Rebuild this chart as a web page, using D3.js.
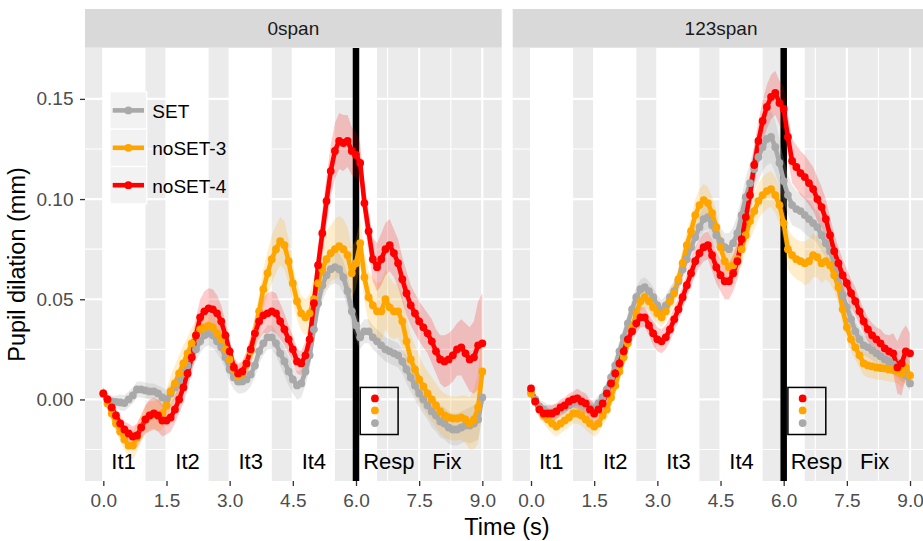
<!DOCTYPE html>
<html><head><meta charset="utf-8">
<script src="https://cdn.jsdelivr.net/npm/d3@7"></script>
<style>
body{margin:0;background:#fff}
svg{display:block}
text{font-family:"Liberation Sans",Arial,Helvetica,sans-serif}
</style>
</head><body>
<svg id="c" width="923" height="541"></svg>
<script>
// ---------------- DATA ----------------
const panels = ["0span", "123span"];
const seriesNames = ["SET", "noSET-3", "noSET-4"];
const seriesColors = ["#A9A9A9", "#FFA500", "#FF0000"];
const xTicks = [0, 1.5, 3, 4.5, 6, 7.5, 9];
const xTickLabels = ["0.0", "1.5", "3.0", "4.5", "6.0", "7.5", "9.0"];
const yTicks = [0, 0.05, 0.10, 0.15];
const yTickLabels = ["0.00", "0.05", "0.10", "0.15"];
const phaseLabels = ["It1", "It2", "It3", "It4", "Resp", "Fix"];
const phaseLabelX = [0.48, 2.0, 3.5, 5.0, 6.78, 8.16];
const itemStart = [0, 1.5, 3.0, 4.5, 6.0];
const itemEnd = [1.0, 2.5, 4.0, 5.5, 6.5];
const responseOnset = 6.0;
// time samples (s), 0.0 .. 9.0 every 0.1 s
const TIME = d3.range(0, 91).map(i => +(i * 0.1).toFixed(1));

// mean pupil dilation (mm), panel "0span"
const L_SET = [0.003,0.000,-0.001,-0.0012,-0.0015,-0.0018,0.000,0.002,0.005,0.005,
 0.0045,0.004,0.004,0.003,0.001,0.000,0.003,0.006,0.009,0.013,
 0.017,0.021,0.025,0.029,0.032,0.033,0.032,0.029,0.026,0.021,
 0.015,0.011,0.009,0.009,0.010,0.0125,0.017,0.024,0.028,0.031,
 0.031,0.028,0.023,0.019,0.014,0.010,0.007,0.008,0.014,0.022,
 0.035,0.048,0.057,0.062,0.065,0.066,0.065,0.061,0.054,0.044,
 0.037,0.031,0.034,0.034,0.031,0.029,0.027,0.025,0.024,0.023,
 0.022,0.019,0.015,0.011,0.007,0.003,0.000,-0.003,-0.006,-0.008,
 -0.011,-0.012,-0.014,-0.015,-0.015,-0.014,-0.013,-0.013,-0.012,-0.010,
 0.001];
const L_N3 = [0.003,-0.002,-0.007,-0.012,-0.016,-0.020,-0.023,-0.023,-0.019,-0.014,
 -0.010,-0.008,-0.0075,-0.008,-0.007,-0.003,0.004,0.008,0.013,0.018,
 0.023,0.028,0.032,0.035,0.036,0.0367,0.036,0.033,0.030,0.025,
 0.020,0.015,0.0115,0.013,0.018,0.024,0.033,0.044,0.055,0.063,
 0.070,0.075,0.079,0.077,0.069,0.058,0.049,0.043,0.041,0.043,
 0.050,0.058,0.065,0.070,0.073,0.075,0.0765,0.075,0.072,0.063,
 0.068,0.078,0.061,0.051,0.047,0.044,0.044,0.050,0.046,0.044,
 0.044,0.039,0.029,0.020,0.015,0.010,0.0065,0.003,0.000,-0.003,
 -0.006,-0.008,-0.009,-0.0095,-0.0095,-0.009,-0.010,-0.012,-0.010,-0.004,
 0.014];
const L_N4 = [0.003,0.000,-0.004,-0.008,-0.012,-0.015,-0.017,-0.0185,-0.018,-0.014,
 -0.010,-0.008,-0.007,-0.008,-0.0105,-0.0105,-0.009,-0.005,0.000,0.006,
 0.013,0.021,0.032,0.041,0.044,0.0455,0.045,0.043,0.039,0.032,
 0.024,0.016,0.013,0.014,0.018,0.025,0.033,0.039,0.042,0.043,
 0.044,0.043,0.039,0.035,0.030,0.025,0.019,0.018,0.022,0.030,
 0.048,0.067,0.083,0.099,0.114,0.124,0.129,0.128,0.129,0.124,
 0.122,0.118,0.098,0.084,0.070,0.066,0.070,0.075,0.077,0.073,
 0.068,0.060,0.053,0.047,0.043,0.039,0.036,0.033,0.029,0.024,
 0.020,0.019,0.020,0.022,0.025,0.026,0.023,0.020,0.021,0.027,
 0.028];
// mean pupil dilation (mm), panel "123span"
const R_SET = [0.004,0.000,-0.0035,-0.005,-0.0065,-0.0065,-0.006,-0.005,-0.004,-0.003,
 -0.0015,-0.001,-0.002,-0.003,-0.004,-0.0045,-0.002,0.001,0.005,0.011,
 0.017,0.024,0.031,0.038,0.045,0.051,0.055,0.056,0.054,0.051,
 0.047,0.0445,0.047,0.051,0.054,0.059,0.065,0.070,0.076,0.081,
 0.086,0.090,0.091,0.087,0.082,0.079,0.076,0.075,0.078,0.083,
 0.092,0.101,0.108,0.115,0.121,0.126,0.130,0.131,0.126,0.118,
 0.109,0.102,0.097,0.095,0.094,0.092,0.090,0.088,0.086,0.082,
 0.078,0.074,0.068,0.061,0.052,0.046,0.040,0.034,0.030,0.027,
 0.026,0.0245,0.023,0.0215,0.020,0.019,0.0175,0.016,0.014,0.012,
 0.008];
const R_N3 = [0.003,-0.001,-0.005,-0.008,-0.010,-0.012,-0.0135,-0.012,-0.0105,-0.009,
 -0.007,-0.007,-0.008,-0.010,-0.012,-0.0135,-0.012,-0.008,-0.005,0.001,
 0.007,0.014,0.021,0.028,0.036,0.043,0.049,0.051,0.049,0.046,
 0.043,0.041,0.044,0.049,0.053,0.060,0.068,0.077,0.084,0.092,
 0.097,0.0995,0.098,0.093,0.086,0.076,0.069,0.066,0.067,0.070,
 0.075,0.082,0.089,0.094,0.099,0.102,0.104,0.105,0.102,0.097,
 0.088,0.075,0.072,0.070,0.069,0.068,0.069,0.072,0.071,0.068,
 0.069,0.067,0.062,0.056,0.045,0.036,0.030,0.026,0.022,0.018,
 0.017,0.0165,0.016,0.0157,0.0155,0.015,0.0147,0.014,0.013,0.016,
 0.012];
const R_N4 = [0.0055,-0.001,-0.005,-0.007,-0.007,-0.007,-0.006,-0.004,-0.003,-0.001,
 0.000,0.0005,-0.001,-0.002,-0.005,-0.007,-0.005,-0.002,0.003,0.008,
 0.013,0.018,0.024,0.030,0.034,0.038,0.041,0.041,0.037,0.033,
 0.030,0.029,0.031,0.035,0.040,0.045,0.051,0.057,0.063,0.069,
 0.073,0.076,0.077,0.072,0.066,0.062,0.059,0.059,0.063,0.069,
 0.080,0.091,0.102,0.117,0.129,0.139,0.146,0.151,0.153,0.148,
 0.145,0.131,0.119,0.116,0.113,0.111,0.108,0.105,0.100,0.096,
 0.090,0.082,0.074,0.068,0.062,0.058,0.053,0.049,0.044,0.039,
 0.035,0.032,0.030,0.028,0.0255,0.024,0.023,0.016,0.018,0.024,
 0.023];

// ribbon half-widths, in units of 0.001 mm
const L_SET_se = [3,3,3,3,4,4, 4,4,4,4,4, 4,4,4,5,5, 5,5,6,6,6, 6,6,6,6,6, 6,6,6,6,6, 6,6,6,6,6,
 6,6,6,6,6, 6,6,7,7,7, 7,7,7,7,7, 7,8,8,8,8, 8,8,8,7,7, 6,6,6,6,6, 6,6,6,6,6, 6,7,7,7,7,
 7,7,8,8,8, 8,8,8,8,8, 8,9,9,10,10];
const L_N3_se = [3,3,4,4,5,5, 6,7,7,7,7, 7,7,8,8,8, 8,9,9,9,8, 8,7,7,6,6, 6,6,6,6,5, 5,5,6,6,7,
 8,9,10,11,12, 12,12,12,11,10, 9,9,9,10,11, 12,13,14,14,15, 15,15,14,13,12, 12,12,13,14,14,
 15,15,15,14,13, 13,12,12,12,12, 11,11,11,11,11, 11,11,11,11,11, 12,13,15,18,20];
const L_N4_se = [3,3,4,4,4,4, 5,5,6,6,7, 8,8,8,8,7, 7,7,7,8,8, 8,9,9,10,10, 10,9,8,7,6, 5,5,5,6,7,
 8,9,9,10,10, 10,9,8,7,7, 6,6,7,8,9, 10,11,12,13,14, 14,14,13,12,11, 10,10,10,11,12,
 13,13,13,12,12, 11,11,10,10,10, 10,10,11,11,12, 13,13,13,13,14, 15,16,18,22,25];
const R_SET_se = [3,3,3,4,4,4, 4,4,4,4,4, 4,4,4,4,4, 4,4,4,4,5, 5,5,5,5,5, 5,5,5,5,5, 5,5,5,5,5,
 6,6,6,6,6, 6,6,7,7,7, 7,8,8,9,9, 10,10,11,12,12, 13,13,13,12,11, 10,10,9,9,9,
 9,8,8,8,7, 7,7,6,6,6, 6,5,5,5,5, 5,5,5,5,5, 5,5,5,4,4];
const R_N3_se = [3,3,4,4,5,5, 5,5,5,5,5, 5,5,5,5,5, 5,5,5,5,5, 5,5,5,5,5, 5,5,5,5,5, 5,5,6,6,6,
 7,7,7,8,8, 8,8,8,8,8, 8,8,8,8,8, 8,9,9,9,9, 9,9,9,9,9, 10,10,10,10,11,
 11,11,10,10,9, 9,8,8,7,7, 6,6,6,6,6, 6,6,6,6,6, 6,6,7,7,7];
const R_N4_se = [3,3,4,4,4,4, 4,4,4,4,4, 5,5,5,5,5, 5,5,5,5,5, 5,5,5,5,5, 5,5,5,6,6, 6,6,6,6,6,
 6,6,7,7,7, 7,7,8,8,8, 9,9,9,9,9, 9,10,10,10,10, 11,11,11,11,11, 11,11,11,11,11,
 11,11,11,10,10, 9,9,8,8,7, 7,7,6,6,6, 6,6,7,7,8, 10,13,16,13,10];

// inset key (response-colour dots)
const insetBox = [6.1, 7.0, -0.0175, 0.006];
const insetDotX = 6.45;
const insetDotY = [-0.0118, -0.0055, 0.0005]; // SET, noSET-3, noSET-4

// ---------------- DRAW ----------------
const svg = d3.select("#c");
const PT = 48, PB = 481;
const y = d3.scaleLinear().domain([-0.0407, 0.1754]).range([PB, PT]);
const panelRange = [[85, 501.7], [512.7, 929.4]];
const means = [[L_SET, L_N3, L_N4], [R_SET, R_N3, R_N4]];
const ses = [[L_SET_se, L_N3_se, L_N4_se], [R_SET_se, R_N3_se, R_N4_se]];
const minorX = [0.75, 2.25, 3.75, 5.25, 6.75, 8.25];
const minorY = [-0.025, 0.025, 0.075, 0.125];

panels.forEach((pname, pi) => {
  const x = d3.scaleLinear().domain([-0.435, 9.46]).range(panelRange[pi]);
  const [x0, x1] = panelRange[pi];
  const g = svg.append("g");
  // strip
  g.append("rect").attr("x", x0).attr("y", 9).attr("width", x1 - x0).attr("height", 38.7).attr("fill", "#D9D9D9");
  g.append("text").attr("x", (x0 + x1) / 2).attr("y", 28.5).attr("text-anchor", "middle")
    .attr("dominant-baseline", "central").attr("font-size", 19).attr("fill", "#1A1A1A").text(pname);
  // panel background
  g.append("rect").attr("x", x0).attr("y", PT).attr("width", x1 - x0).attr("height", PB - PT).attr("fill", "#EBEBEB");
  // grid
  g.selectAll(".gmy").data(minorY).join("line").attr("x1", x0).attr("x2", x1)
    .attr("y1", d => y(d)).attr("y2", d => y(d)).attr("stroke", "#fff").attr("stroke-width", 1.1);
  g.selectAll(".gmx").data(minorX).join("line").attr("y1", PT).attr("y2", PB)
    .attr("x1", d => x(d)).attr("x2", d => x(d)).attr("stroke", "#fff").attr("stroke-width", 1.1);
  g.selectAll(".gy").data(yTicks).join("line").attr("x1", x0).attr("x2", x1)
    .attr("y1", d => y(d)).attr("y2", d => y(d)).attr("stroke", "#fff").attr("stroke-width", 2.2);
  g.selectAll(".gx").data(xTicks).join("line").attr("y1", PT).attr("y2", PB)
    .attr("x1", d => x(d)).attr("x2", d => x(d)).attr("stroke", "#fff").attr("stroke-width", 2.2);
  // white item windows
  g.selectAll(".win").data(itemStart).join("rect")
    .attr("x", (d) => x(d)).attr("width", (d, i) => x(itemEnd[i]) - x(d))
    .attr("y", PT).attr("height", PB - PT).attr("fill", "#fff");
  // response onset line
  g.append("line").attr("x1", x(responseOnset)).attr("x2", x(responseOnset)).attr("y1", PT).attr("y2", PB)
    .attr("stroke", "#000").attr("stroke-width", 6.5);
  // ribbons
  means[pi].forEach((m, si) => {
    const se = ses[pi][si];
    const area = d3.area().x((d, i) => x(TIME[i]))
      .y0((d, i) => y(d - se[i] * 0.001)).y1((d, i) => y(d + se[i] * 0.001));
    g.append("path").attr("d", area(m)).attr("fill", seriesColors[si]).attr("fill-opacity", si === 0 ? 0.25 : 0.2);
  });
  // lines
  means[pi].forEach((m, si) => {
    const line = d3.line().x((d, i) => x(TIME[i])).y(d => y(d));
    g.append("path").attr("d", line(m)).attr("fill", "none").attr("stroke", seriesColors[si])
      .attr("stroke-width", 4.6).attr("stroke-linejoin", "round").attr("stroke-linecap", "round");
  });
  // points
  means[pi].forEach((m, si) => {
    g.append("g").selectAll("circle").data(m).join("circle")
      .attr("cx", (d, i) => x(TIME[i])).attr("cy", d => y(d)).attr("r", 3.9).attr("fill", seriesColors[si]);
  });
  // phase labels
  g.selectAll(".pl").data(phaseLabels).join("text")
    .attr("x", (d, i) => x(phaseLabelX[i])).attr("y", y(-0.0348)).attr("text-anchor", "middle")
    .attr("font-size", 22).attr("fill", "#000").text(d => d);
  // inset box
  g.append("rect").attr("x", x(insetBox[0])).attr("y", y(insetBox[3]))
    .attr("width", x(insetBox[1]) - x(insetBox[0])).attr("height", y(insetBox[2]) - y(insetBox[3]))
    .attr("fill", "none").attr("stroke", "#000").attr("stroke-width", 1.5);
  g.selectAll(".idot").data(insetDotY).join("circle").attr("cx", x(insetDotX)).attr("cy", d => y(d))
    .attr("r", 3.9).attr("fill", (d, i) => seriesColors[i]);
  // x axis
  const xa = g.append("g").attr("transform", `translate(0,${PB})`)
    .call(d3.axisBottom(x).tickValues(xTicks).tickFormat((d, i) => xTickLabels[i]).tickSize(5).tickPadding(8));
  xa.select(".domain").remove();
  xa.selectAll("line").attr("stroke", "#333").attr("stroke-width", 1.3);
  xa.selectAll("text").attr("font-size", 19).attr("fill", "#4D4D4D").attr("font-family", null);
  if (pi === 0) {
    const ya = g.append("g").attr("transform", `translate(${x0},0)`)
      .call(d3.axisLeft(y).tickValues(yTicks).tickFormat((d, i) => yTickLabels[i]).tickSize(5).tickPadding(6.5));
    ya.select(".domain").remove();
    ya.selectAll("line").attr("stroke", "#333").attr("stroke-width", 1.3);
    ya.selectAll("text").attr("font-size", 19).attr("fill", "#4D4D4D").attr("font-family", null);
    // legend
    const lg = g.append("g");
    const keyX = 110, keyW = 36.7, keyH = 37.4, keyY = 91.7;
    seriesNames.forEach((s, si) => {
      const ky = keyY + si * keyH;
      lg.append("rect").attr("x", keyX).attr("y", ky).attr("width", keyW).attr("height", keyH)
        .attr("fill", "#F2F2F2").attr("stroke", "#fff").attr("stroke-width", 1.2);
      lg.append("line").attr("x1", keyX + 2.7).attr("x2", keyX + keyW - 2.7)
        .attr("y1", ky + keyH / 2).attr("y2", ky + keyH / 2)
        .attr("stroke", seriesColors[si]).attr("stroke-width", 4.6);
      lg.append("circle").attr("cx", keyX + keyW / 2).attr("cy", ky + keyH / 2).attr("r", 3.9).attr("fill", seriesColors[si]);
      lg.append("text").attr("x", 152.3).attr("y", ky + keyH / 2 + 1).attr("dominant-baseline", "central")
        .attr("font-size", 19).attr("fill", "#000").text(s);
    });
  }
});
// axis titles
svg.append("text").attr("x", 507).attr("y", 535).attr("text-anchor", "middle")
  .attr("font-size", 23.5).attr("fill", "#000").text("Time (s)");
svg.append("text").attr("transform", "translate(25,264.5) rotate(-90)").attr("text-anchor", "middle")
  .attr("font-size", 23.5).attr("fill", "#000").text("Pupil dilation (mm)");
</script>
</body></html>
